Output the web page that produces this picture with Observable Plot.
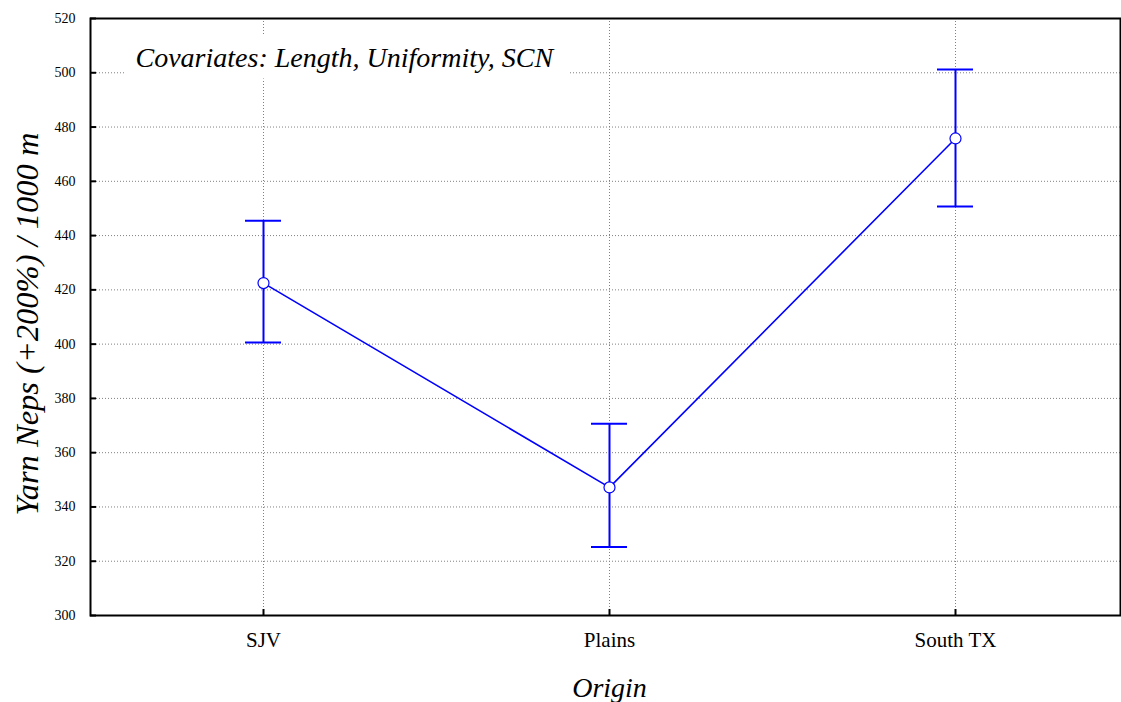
<!DOCTYPE html>
<html>
<head>
<meta charset="utf-8">
<script src="https://cdn.jsdelivr.net/npm/d3@7"></script>
<script src="https://cdn.jsdelivr.net/npm/@observablehq/plot@0.6"></script>
<style>
  html, body { margin: 0; padding: 0; background: #fff; }
  #chart svg { display: block; }
</style>
</head>
<body>
<div id="chart"></div>
<script>
const origins = ["SJV", "Plains", "South TX"];
const means = [422.5, 347.2, 475.8];
const lowers = [400.6, 325.2, 450.7];
const uppers = [445.5, 370.7, 501.2];
const yTicks = [300, 320, 340, 360, 380, 400, 420, 440, 460, 480, 500, 520];
const annotation = "Covariates: Length, Uniformity, SCN";
const xTitle = "Origin";
const yTitle = "Yarn Neps (+200%) / 1000 m";

const data = origins.map((o, i) => ({origin: o, mean: means[i], lo: lowers[i], hi: uppers[i]}));
const blue = "#0000ff";
const serif = "'Liberation Serif', 'Times New Roman', serif";

const W = 1121, H = 702, mL = 90, mR = 1, mT = 18, mB = 87;
const innerW = W - mL - mR, innerH = H - mT - mB;
const step = 346;
const capHalf = 18;

const plot = Plot.plot({
  width: W,
  height: H,
  marginLeft: mL,
  marginRight: mR,
  marginTop: mT,
  marginBottom: mB,
  style: {fontFamily: serif, background: "#fff"},
  x: {type: "band", domain: origins, range: [263 - step / 2, 955 + step / 2], padding: 0},
  y: {domain: [300, 520]},
  marks: [
    Plot.gridY(yTicks, {stroke: "#808080", strokeOpacity: 1, strokeDasharray: "1,2"}),
    Plot.gridX(origins, {stroke: "#808080", strokeOpacity: 1, strokeDasharray: "1,2"}),
    // white box behind the annotation
    Plot.frame({fill: "#fff", stroke: null, insetLeft: 35, insetRight: innerW - 478, insetTop: 17, insetBottom: innerH - 60}),
    Plot.text([annotation], {frameAnchor: "top-left", dx: 45, dy: 29, text: d => d, fontSize: 28, fontStyle: "italic", fontFamily: serif, fill: "#000"}),
    Plot.ruleX(data, {x: "origin", y1: "lo", y2: "hi", stroke: blue, strokeWidth: 2}),
    Plot.tickY(data, {x: "origin", y: "hi", stroke: blue, strokeWidth: 2, insetLeft: step / 2 - capHalf, insetRight: step / 2 - capHalf}),
    Plot.tickY(data, {x: "origin", y: "lo", stroke: blue, strokeWidth: 2, insetLeft: step / 2 - capHalf, insetRight: step / 2 - capHalf}),
    Plot.lineY(data, {x: "origin", y: "mean", stroke: blue, strokeWidth: 1.6}),
    Plot.dot(data, {x: "origin", y: "mean", r: 5.5, fill: "#fff", stroke: blue, strokeWidth: 1.2}),
    Plot.frame({stroke: "#000", strokeWidth: 2}),
    Plot.axisY(yTicks, {tickSize: 0, tickPadding: 15, fontSize: 14, label: null, fill: "#000"}),
    Plot.tickY(yTicks, {y: d => d, stroke: "#000", strokeWidth: 2, insetRight: innerW - 6}),
    Plot.axisX(origins, {tickSize: 0, tickPadding: 17, fontSize: 21, label: null, fill: "#000"}),
    Plot.tickX(origins, {x: d => d, stroke: "#000", strokeWidth: 2, insetTop: innerH - 6}),
    Plot.text([xTitle], {frameAnchor: "bottom", dx: 4, dy: 81, text: d => d, fontSize: 28, fontStyle: "italic", fontFamily: serif, fill: "#000"}),
    Plot.text([yTitle], {frameAnchor: "left", textAnchor: "middle", lineAnchor: "middle", dx: -63, dy: 7, text: d => d, rotate: -90, fontSize: 32.5, fontStyle: "italic", fontFamily: serif, fill: "#000"})
  ]
});
document.getElementById("chart").appendChild(plot);
</script>
</body>
</html>
